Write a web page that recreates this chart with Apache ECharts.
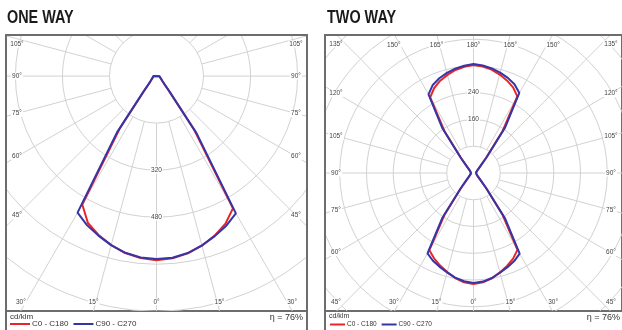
<!DOCTYPE html>
<html><head><meta charset="utf-8">
<script src="https://cdn.jsdelivr.net/npm/echarts@6/dist/echarts.min.js"></script>
<style>html,body{margin:0;padding:0;background:#fff}#c{width:622px;height:330px}</style>
</head><body><div id="c"></div>
<script>
// ---------- DATA ----------
const seriesNames = ['C0 - C180', 'C90 - C270'];
const panelTitles = ['ONE WAY', 'TWO WAY'];
// ONE WAY (cd/klm), angle from nadir
const oneAngles = [0,5,10,15,20,25,30,35,40,45,50,55,60,65,70,75,80,85,90];
const oneC0   = [627,623,613,598,578,555,520,225,66,36,26,21,17,15,13,12,11,10,10];
const oneC180 = [627,622,612,596,576,552,505,218,64,35,26,21,17,15,13,12,11,10,10];
const oneC90  = [623,621,612,597,580,562,540,238,70,38,27,22,18,15,13,12,11,10,10];
const oneC270 = [623,620,611,596,578,560,537,235,70,38,27,22,18,15,13,12,11,10,10];
const oneRings = [160,320,480,640,800,960,1120];
const oneRingLabels = [320,480];
const oneAngleLabels = [0,15,30,45,60,75,90,105];
// TWO WAY (cd/klm)
const twoAngles = [0,5,10,15,20,25,30,35,40,45,50,55,60,65,70,75,80,85,90,95,100,105,110,115,120,125,130,135,140,145,150,155,160,165,170,175,180];
const twoC0   = [329,325,317,305,293,280,263,152,58,28,18,14,11,9,8,8,7,7,7,7,7,8,8,9,11,14,18,28,58,152,262,280,292,302,311,317,320];
const twoC180 = [329,325,316,304,292,279,264,150,57,28,18,14,11,9,8,8,7,7,7,7,7,8,8,9,11,14,18,28,57,150,259,278,291,301,310,316,320];
const twoC90  = [326,323,316,306,297,288,276,165,62,30,20,15,12,10,9,8,8,8,8,8,8,8,9,10,12,15,20,30,62,165,274,290,300,308,315,320,323];
const twoC270 = [326,322,315,305,296,287,275,163,61,30,20,15,12,10,9,8,8,8,8,8,8,8,9,10,12,15,20,30,61,163,269,288,299,307,314,319,323];
const twoRings = [80,160,240,320,400,480,560,640,720];
const twoRingLabels = [160,240];
const twoAngleLabels = [0,15,30,45,60,75,90,105,120,135,150,165,180];
const efficiency = 'η = 76%';
const unitLabel = 'cd/klm';

// ---------- HELPERS ----------
const RED = '#e8262a', BLUE = '#3535a8', GRID = '#d2d2d2', BORDER = '#6d6d6d', TXT = '#444';
const FONT = '"Liberation Sans",Arial,sans-serif';
function rad(a){return a*Math.PI/180;}
function curve(angles, right, left){
  const pts = [];
  for (let i=0;i<angles.length;i++){const t=rad(angles[i]);pts.push([right[i]*Math.sin(t), -right[i]*Math.cos(t)]);}
  for (let i=angles.length-1;i>=0;i--){const t=rad(angles[i]);pts.push([-left[i]*Math.sin(t), -left[i]*Math.cos(t)]);}
  pts.push(pts[0].slice());
  return pts;
}
function spokes(){const d=[];for(let a=0;a<=180;a+=15){d.push([a,1]);if(a>0&&a<180)d.push([a,-1]);}return d;}
function ringSeries(idx, rings){
  return {type:'custom', xAxisIndex:idx, yAxisIndex:idx, clip:true, silent:true, z:1,
    data: rings.map(r=>[r,0]),
    renderItem:(p,api)=>{const c=api.coord([0,0]);const r=api.size([api.value(0),0])[0];
      return {type:'circle',shape:{cx:c[0],cy:c[1],r:r},style:{fill:'none',stroke:GRID,lineWidth:1}};}};
}
function spokeSeries(idx, r0){
  return {type:'custom', xAxisIndex:idx, yAxisIndex:idx, clip:true, silent:true, z:1,
    data: spokes(),
    renderItem:(p,api)=>{const t=rad(api.value(0)), s=api.value(1);
      const a=api.coord([s*r0*Math.sin(t), -r0*Math.cos(t)]);
      const b=api.coord([s*5000*Math.sin(t), -5000*Math.cos(t)]);
      return {type:'line',shape:{x1:a[0],y1:a[1],x2:b[0],y2:b[1]},style:{stroke:GRID,lineWidth:1}};}};
}
function angleLabelSeries(idx, list, fs){
  const d=[];list.forEach(a=>{d.push([a,1]);if(a>0&&a<180)d.push([a,-1]);});
  return {type:'custom', xAxisIndex:idx, yAxisIndex:idx, clip:false, silent:true, z:5,
    data:d,
    renderItem:(p,api)=>{const th=api.value(0), s=api.value(1), cs=p.coordSys;
      const c=api.coord([0,0]); const dx=s*Math.sin(rad(th)), dy=Math.cos(rad(th));
      const xl=cs.x+11, xr=cs.x+cs.width-11, yt=cs.y, yb=cs.y+cs.height;
      let t=Infinity, hit='';
      if(dx<-1e-9){const k=(xl-c[0])/dx;if(k<t){t=k;hit='side';}}
      if(dx>1e-9){const k=(xr-c[0])/dx;if(k<t){t=k;hit='side';}}
      if(dy>1e-9){const k=(yb-c[1])/dy;if(k<t){t=k;hit='bottom';}}
      if(dy<-1e-9){const k=(yt-c[1])/dy;if(k<t){t=k;hit='top';}}
      let x=c[0]+dx*t, y=c[1]+dy*t;
      if(hit==='bottom')y=yb-9; if(hit==='top')y=yt+10;
      x=Math.max(xl,Math.min(xr,x)); y=Math.max(yt+9,Math.min(yb-9,y));
      return {type:'text',x:x,y:y,style:{text:th+'°',fill:TXT,font:fs+'px '+FONT,align:'center',verticalAlign:'middle',backgroundColor:'#fff',padding:[0,1]}};}};
}
function ringLabelSeries(idx, list, dir, fs){
  return {type:'custom', xAxisIndex:idx, yAxisIndex:idx, clip:false, silent:true, z:5,
    data:list.map(v=>[0,dir*v]),
    renderItem:(p,api)=>{const c=api.coord([api.value(0),api.value(1)]);
      return {type:'text',x:c[0],y:c[1],style:{text:String(Math.abs(api.value(1))),fill:TXT,font:fs+'px '+FONT,align:'center',verticalAlign:'middle',backgroundColor:'#fff',padding:[0,1]}};}};
}
function lineSeries(idx, name, color, data){
  return {type:'line', name:name, xAxisIndex:idx, yAxisIndex:idx, data:data, showSymbol:false, symbol:'none',
    clip:true, z:3, itemStyle:{color:color}, lineStyle:{color:color,width:2}};
}

const chart = echarts.init(document.getElementById('c'), null, {renderer:'canvas'});
chart.setOption({
  animation:false,
  backgroundColor:'#fff',
  grid:[
    {left:6, top:35, width:301, height:276, show:true, borderColor:BORDER, borderWidth:2, backgroundColor:'#fff'},
    {left:325, top:35, width:300, height:276, show:true, borderColor:BORDER, borderWidth:2, backgroundColor:'#fff'}
  ],
  xAxis:[
    {gridIndex:0, type:'value', min:-512, max:512, show:false},
    {gridIndex:1, type:'value', min:-444, max:444, show:false}
  ],
  yAxis:[
    {gridIndex:0, type:'value', min:-800, max:140, show:false},
    {gridIndex:1, type:'value', min:-409, max:409, show:false}
  ],
  legend:[
    {data:seriesNames, left:10, top:320, icon:'rect', itemWidth:20, itemHeight:2, itemGap:5, padding:0, selectedMode:false,
     textStyle:{fontFamily:FONT, fontSize:8, color:'#333', padding:[0,0,0,-3]}},
    {data:seriesNames, left:330, top:321, icon:'rect', itemWidth:15, itemHeight:2, itemGap:5, padding:0, selectedMode:false,
     textStyle:{fontFamily:FONT, fontSize:6.5, color:'#333', padding:[0,0,0,-3]}}
  ],
  graphic:[
    {type:'text', x:7, y:9, scaleX:0.8, style:{text:panelTitles[0], font:'bold 18px '+FONT, fill:'#1b1b1b', verticalAlign:'top'}},
    {type:'text', x:327, y:9, scaleX:0.8, style:{text:panelTitles[1], font:'bold 18px '+FONT, fill:'#1b1b1b', verticalAlign:'top'}},
    {type:'rect', shape:{x:6,y:35,width:301,height:310}, style:{fill:'none',stroke:BORDER,lineWidth:2}, z:10},
    {type:'rect', shape:{x:325,y:35,width:300,height:310}, style:{fill:'none',stroke:BORDER,lineWidth:2}, z:10},
    {type:'text', x:10, y:313, style:{text:unitLabel, font:'8px '+FONT, fill:'#333'}},
    {type:'text', x:329, y:313, style:{text:unitLabel, font:'7px '+FONT, fill:'#333'}},
    {type:'text', x:303, y:313, style:{text:efficiency, font:'9px '+FONT, fill:'#333', align:'right'}},
    {type:'text', x:620, y:313, style:{text:efficiency, font:'9px '+FONT, fill:'#333', align:'right'}}
  ],
  series:[
    ringSeries(0, oneRings), spokeSeries(0, oneRings[0]),
    angleLabelSeries(0, oneAngleLabels, 6.5), ringLabelSeries(0, oneRingLabels, -1, 6.5),
    lineSeries(0, seriesNames[0], RED, curve(oneAngles, oneC0, oneC180)),
    lineSeries(0, seriesNames[1], BLUE, curve(oneAngles, oneC90, oneC270)),
    ringSeries(1, twoRings), spokeSeries(1, twoRings[0]),
    angleLabelSeries(1, twoAngleLabels, 6.5), ringLabelSeries(1, twoRingLabels, 1, 6.5),
    lineSeries(1, seriesNames[0], RED, curve(twoAngles, twoC0, twoC180)),
    lineSeries(1, seriesNames[1], BLUE, curve(twoAngles, twoC90, twoC270))
  ]
});
</script></body></html>
